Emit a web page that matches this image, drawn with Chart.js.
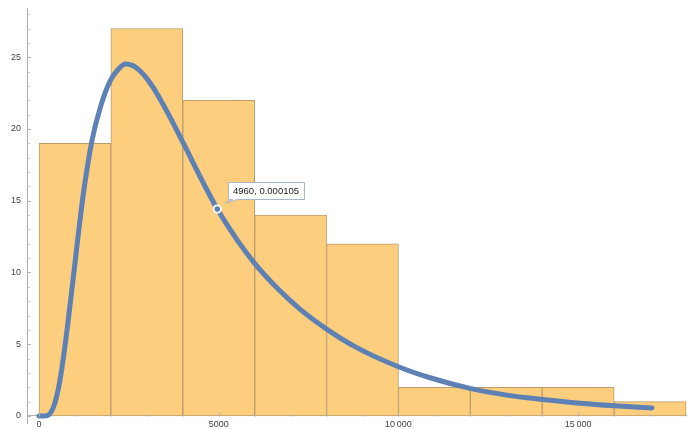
<!DOCTYPE html>
<html>
<head>
<meta charset="utf-8">
<script src="https://cdn.jsdelivr.net/npm/chart.js@4.4.1/dist/chart.umd.min.js"></script>
<style>
  html, body { margin: 0; padding: 0; background: #fff; }
  canvas { display: block; }
</style>
</head>
<body>
<canvas id="chart" width="687" height="429"></canvas>
<script>
// Histogram bins (left edges) and their counts
const binStarts = [0, 2000, 4000, 6000, 8000, 10000, 12000, 14000, 16000];
const binWidth = 2000;
const counts = [19, 27, 22, 14, 12, 2, 2, 2, 1];

// Fitted density curve: sample positions and density values
const curveX = [0, 150, 300, 400, 500, 600, 700, 800, 900, 1000, 1100, 1240, 1470, 1700, 1980,
  2200, 2400, 2600, 2800, 3000, 3200, 3460, 3740, 4020, 4570, 4960, 5500, 6010, 6610, 7260,
  8000, 8840, 10000, 10880, 11990, 13010, 14010, 15050, 16010, 17050];
const curveDensity = [0, 0, 1.1e-6, 4.4e-6, 10.6e-6, 20.0e-6, 32.4e-6, 46.6e-6, 61.9e-6, 77.5e-6,
  93.2e-6, 113.6e-6, 139.4e-6, 156.2e-6, 170.0e-6, 175.8e-6, 178.6e-6, 177.9e-6, 175.3e-6,
  171.2e-6, 166.0e-6, 157.8e-6, 148.3e-6, 138.3e-6, 118.3e-6, 105.0e-6, 89.6e-6, 77.2e-6,
  65.2e-6, 54.2e-6, 44.1e-6, 34.7e-6, 25.0e-6, 19.4e-6, 14.0e-6, 10.6e-6, 8.4e-6, 6.5e-6,
  5.2e-6, 4.1e-6];

// Highlighted point on the curve
const markX = 4960;
const markDensity = 0.000105;

// Axis ticks
const xTicks = [0, 5000, 10000, 15000];
const yTicks = [0, 5, 10, 15, 20, 25];
const xMinorStep = 1000;
const yMinorStep = 1;

// Axis ranges; the density axis is the count axis divided by countsPerDensity
const xMin = -334, xMax = 18027;
const yMin = -0.488, yMax = 28.43;
const countsPerDensity = 137333;

const AXIS_COLOR = '#b4b4b4';
const LABEL_COLOR = '#444';
const FONT = 'Liberation Sans, Arial, sans-serif';

function fmt(v) {
  const s = String(v);
  return v >= 10000 ? s.slice(0, s.length - 3) + '\u2009' + s.slice(-3) : s;
}

// Inward-pointing major and minor tick marks
const innerTicks = {
  id: 'innerTicks',
  afterDraw(chart) {
    const { ctx, chartArea: a } = chart;
    const xs = chart.scales.x, ys = chart.scales.y;
    const y0 = Math.round(ys.getPixelForValue(0)) + 0.5;
    ctx.save();
    ctx.strokeStyle = AXIS_COLOR;
    ctx.lineWidth = 1;
    ctx.beginPath();
    for (let v = 0; v <= xMax; v += xMinorStep) {
      const p = Math.round(xs.getPixelForValue(v)) + 0.5;
      const len = xTicks.includes(v) ? 4 : 2.5;
      ctx.moveTo(p, y0);
      ctx.lineTo(p, y0 - len);
    }
    for (let v = 0; v <= yMax; v += yMinorStep) {
      const p = Math.round(ys.getPixelForValue(v)) + 0.5;
      const len = yTicks.includes(v) ? 4 : 2.5;
      ctx.moveTo(a.left, p);
      ctx.lineTo(a.left + len, p);
    }
    ctx.stroke();
    ctx.restore();
  }
};

// Callout with the coordinates of the highlighted point
const callout = {
  id: 'callout',
  afterDraw(chart) {
    const { ctx } = chart;
    const px = chart.scales.x.getPixelForValue(markX);
    const py = chart.scales.y2.getPixelForValue(markDensity);
    const text = markX + ', ' + markDensity.toFixed(6);
    ctx.save();
    // point marker
    ctx.fillStyle = '#fff';
    ctx.beginPath(); ctx.arc(px, py, 4.5, 0, Math.PI * 2); ctx.fill();
    ctx.fillStyle = '#5E81B5';
    ctx.beginPath(); ctx.arc(px, py, 2.8, 0, Math.PI * 2); ctx.fill();
    // label box
    ctx.font = '9.5px ' + FONT;
    const w = Math.ceil(ctx.measureText(text).width) + 9;
    const h = 17;
    const bx = Math.round(px + 11) + 0.5, by = Math.round(py - 27) + 0.5;
    ctx.beginPath();
    ctx.moveTo(bx, by);
    ctx.lineTo(bx + w, by);
    ctx.lineTo(bx + w, by + h);
    ctx.lineTo(bx + 9, by + h);
    ctx.lineTo(px + 8, py - 6);
    ctx.lineTo(bx + 4, by + h);
    ctx.lineTo(bx, by + h);
    ctx.closePath();
    ctx.fillStyle = '#fff';
    ctx.fill();
    ctx.strokeStyle = '#a9b6c9';
    ctx.lineWidth = 1;
    ctx.stroke();
    ctx.fillStyle = '#222';
    ctx.textBaseline = 'middle';
    ctx.fillText(text, bx + 4.5, by + h / 2 + 0.5);
    ctx.restore();
  }
};

const barData = binStarts.map((s, i) => ({ x: s + binWidth / 2, y: counts[i] }));
const curveData = curveX.map((x, i) => ({ x: x, y: curveDensity[i] }));

new Chart(document.getElementById('chart'), {
  type: 'bar',
  data: {
    datasets: [
      {
        type: 'line',
        data: curveData,
        yAxisID: 'y2',
        borderColor: '#5E81B5',
        borderWidth: 5,
        borderCapStyle: 'round',
        borderJoinStyle: 'round',
        pointRadius: 0,
        fill: false,
        cubicInterpolationMode: 'monotone',
        order: 0
      },
      {
        type: 'bar',
        data: barData,
        yAxisID: 'y',
        backgroundColor: '#FCCE7E',
        borderColor: '#bd9d6c',
        borderWidth: 1,
        borderSkipped: false,
        barPercentage: 1,
        categoryPercentage: 1,
        order: 1
      }
    ]
  },
  options: {
    responsive: false,
    devicePixelRatio: 1,
    animation: false,
    layout: { padding: { top: 8, right: 0, bottom: 6, left: 0 } },
    plugins: { legend: { display: false }, tooltip: { enabled: false } },
    scales: {
      x: {
        type: 'linear',
        position: { y: 0 },
        offset: false,
        min: xMin,
        max: xMax,
        grid: { display: false, drawTicks: false },
        border: { display: true, color: AXIS_COLOR, width: 1 },
        afterBuildTicks: s => { s.ticks = xTicks.map(v => ({ value: v })); },
        afterFit: s => { s.paddingLeft = 0; s.paddingRight = 0; },
        ticks: {
          padding: 3,
          maxRotation: 0,
          autoSkip: false,
          color: LABEL_COLOR,
          font: { family: FONT, size: 9 },
          callback: v => fmt(v)
        }
      },
      y: {
        type: 'linear',
        position: 'left',
        min: yMin,
        max: yMax,
        grid: { display: false, drawTicks: false },
        border: { display: true, color: AXIS_COLOR, width: 1 },
        afterBuildTicks: s => { s.ticks = yTicks.map(v => ({ value: v })); },
        afterFit: s => { s.width = 27; s.paddingTop = 0; s.paddingBottom = 0; },
        ticks: {
          padding: 6,
          autoSkip: false,
          color: LABEL_COLOR,
          font: { family: FONT, size: 9 },
          callback: v => String(v)
        }
      },
      y2: {
        type: 'linear',
        display: false,
        min: yMin / countsPerDensity,
        max: yMax / countsPerDensity
      }
    }
  },
  plugins: [innerTicks, callout]
});
</script>
</body>
</html>
